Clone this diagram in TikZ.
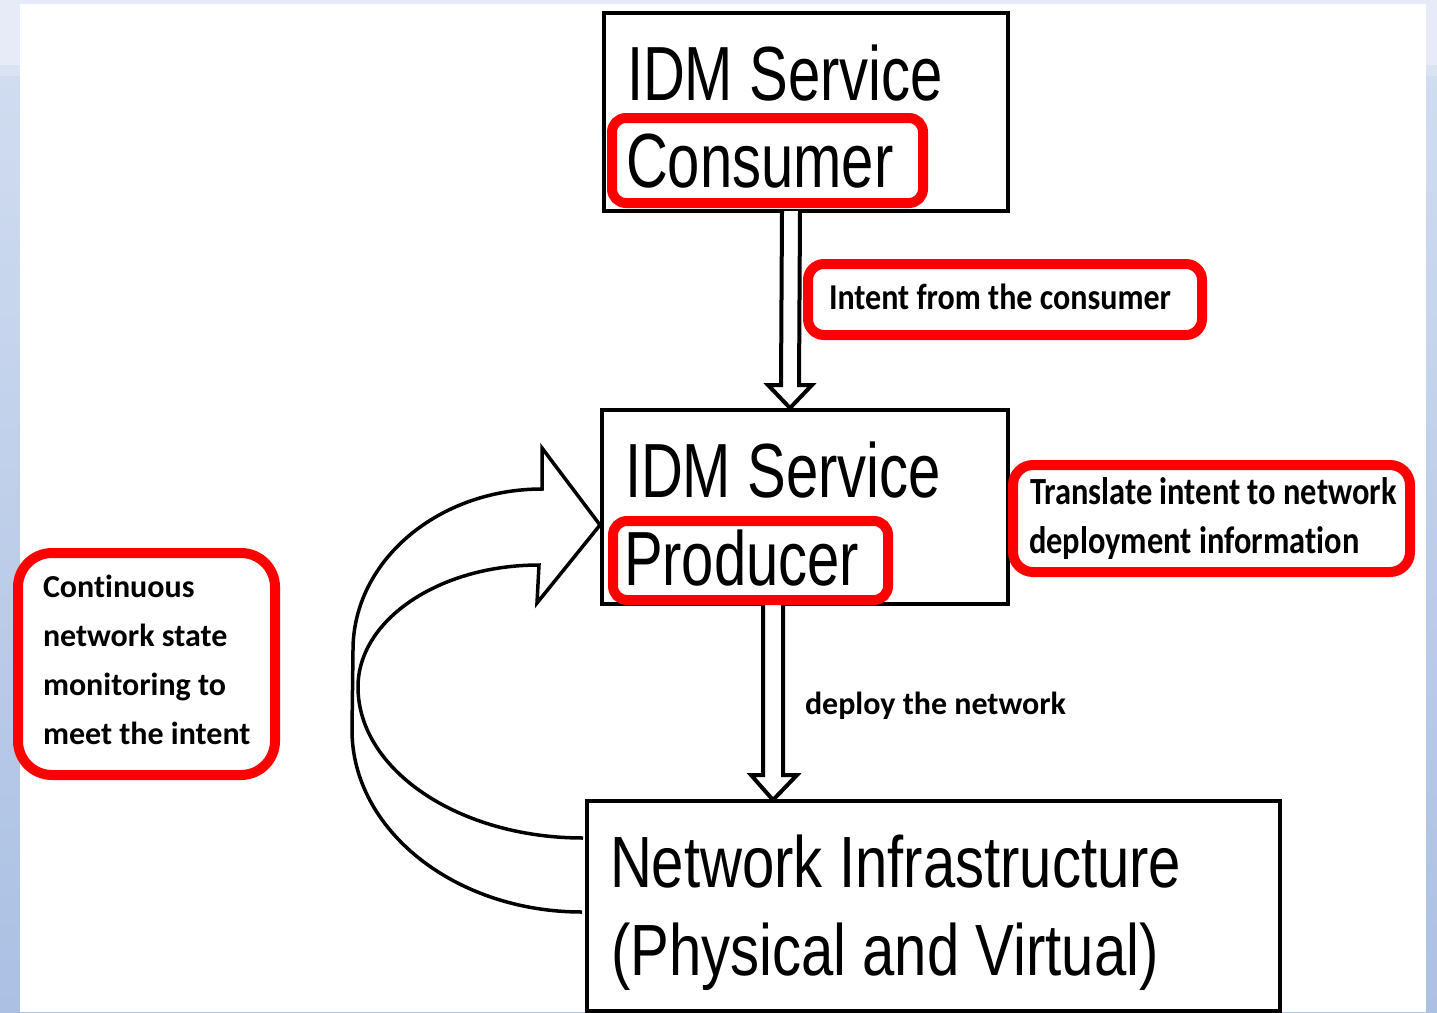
\documentclass[tikz,border=0pt]{standalone}
\usepackage{fontspec}
\usetikzlibrary{calc}
\newfontfamily\bigA[FakeStretch=0.755]{Liberation Sans}
\newfontfamily\bigB[FakeStretch=0.80]{Liberation Sans}
\newfontfamily\lblA[Ligatures=NoCommon]{Carlito}
\newfontfamily\lblB[Ligatures=NoCommon,FakeStretch=0.88]{Carlito}
\newfontfamily\lblC[Ligatures=NoCommon,FakeStretch=0.845]{Carlito}
\definecolor{hlred}{HTML}{FF0000}
\definecolor{bgtop}{HTML}{E6EBF7}
\definecolor{bgband}{HTML}{DAE3F2}
\definecolor{bgmid}{HTML}{D0DCF0}
\definecolor{bgbot}{HTML}{ABC0E3}
\tikzset{
  boxnode/.style={draw=black, line width=3.5pt, fill=white, rectangle, inner sep=0pt, outer sep=0pt},
  redbox/.style={draw=hlred, line width=10pt, rounded corners=#1, rectangle, inner sep=0pt, outer sep=0pt},
  redbox/.default=16pt,
  txt/.style={inner sep=0pt, outer sep=0pt, anchor=base west, text=black},
  bigtxtA/.style={txt, font=\bigA\fontsize{76.8}{80}\selectfont},
  bigtxtB/.style={txt, font=\bigB\fontsize{72.6}{76}\selectfont},
  lbltxtA/.style={txt, font=\lblA\bfseries\fontsize{32}{36}\selectfont},
  lbltxtB/.style={txt, font=\lblB\bfseries\fontsize{36.4}{40}\selectfont},
  lbltxtC/.style={txt, font=\lblC\bfseries\fontsize{38.4}{42}\selectfont},
  blockarr/.style={draw=black, line width=4pt, fill=white, line join=miter},
  curvyarr/.style={draw=black, line width=3.5pt, line join=miter}
}
\begin{document}
\begin{tikzpicture}[x=1pt,y=-1pt]
\useasboundingbox (0,0) rectangle (1437,1012);
% background
\fill[bgtop] (0,0) rectangle (1437,65);
\fill[bgband] (0,65) rectangle (1437,76);
\shade[top color=bgmid, bottom color=bgbot] (0,76) rectangle (1437,1012);
\fill[white] (20,4) rectangle (1426,1012);

% main boxes
\node[boxnode, minimum width=404pt, minimum height=198pt] (cons) at (806,112) {};
\node[boxnode, minimum width=406pt, minimum height=194pt] (prod) at (805,507) {};
\node[boxnode, minimum width=693pt, minimum height=210pt] (net) at (933.5,906) {};

% straight block arrows
\coordinate (a1s) at ($(cons.south)+(-15,0)$);
\coordinate (a1t) at ($(prod.north)+(-15,-2)$);
\draw[blockarr] ($(a1s)+(-9,0)$) -- ($(a1t)+(-9,-23)$) -- ($(a1t)+(-22,-23)$) -- (a1t)
  -- ($(a1t)+(22,-23)$) -- ($(a1t)+(9,-23)$) -- ($(a1s)+(9,0)$);
\coordinate (a2s) at ($(prod.south)+(-32,0)$);
\coordinate (a2t) at ($(net.north)+(-160.5,-1)$);
\draw[blockarr] ($(a2s)+(-10,0)$) -- ($(a2s |- a2t)+(-10,-25)$) -- ($(a2s |- a2t)+(-22,-25)$) -- (a2s |- a2t)
  -- ($(a2s |- a2t)+(24,-25)$) -- ($(a2s |- a2t)+(10,-25)$) -- ($(a2s)+(10,0)$);

% curved block arrow from network to producer
\coordinate (cS1) at ($(net.west)+(-5,6)$);
\coordinate (cS2) at ($(net.west)+(-4,-68)$);
\coordinate (cTip) at ($(prod.west)+(-2,18)$);
\draw[curvyarr] (cS1) .. controls (455,912) and (352,830) .. (352,730)
  -- (353,650) .. controls (353,561) and (438,489) .. (542,489)
  -- (542,448) -- (cTip) -- (537,603) -- (539,565)
  .. controls (439,565) and (358,620) .. (358,687)
  .. controls (358,770) and (459,838) .. (cS2);

% red highlights
\node[redbox=14pt, minimum width=311pt, minimum height=85pt] (consRed) at (767.5,160.5) {};
\node[redbox=14pt, minimum width=275pt, minimum height=79pt] (prodRed) at (750.5,560.5) {};
\node[redbox=16pt, minimum width=394pt, minimum height=71pt] (intentBox) at (1005,299.5) {};
\node[redbox=20pt, minimum width=397pt, minimum height=107pt] (transBox) at (1211.5,518.5) {};
\node[redbox=34pt, minimum width=257pt, minimum height=222pt] (contBox) at (146.5,664) {};

% texts
\node[bigtxtA] (consT1) at (627,100) {IDM Service};
\node[bigtxtA] (consT2) at (626,187) {Consumer};
\node[bigtxtA] (prodT1) at (625,497) {IDM Service};
\node[bigtxtA] (prodT2) at (624,585) {Producer};
\node[bigtxtB] (netT1) at (610,887) {Network Infrastructure};
\node[bigtxtB] (netT2) at (611,975) {(Physical and Virtual)};

\node[lbltxtB] (intentT) at (829,309) {Intent from the consumer};
\node[lbltxtC] (transT1) at (1030,504) {Translate intent to network};
\node[lbltxtC] (transT2) at (1029,553) {deployment information};
\node[lbltxtA] (deployT) at (805,714) {deploy the network};
\node[lbltxtA] (contT1) at (43,597) {Continuous};
\node[lbltxtA] (contT2) at (43,646) {network state};
\node[lbltxtA] (contT3) at (43,695) {monitoring to};
\node[lbltxtA] (contT4) at (43,744) {meet the intent};
\end{tikzpicture}
\end{document}
